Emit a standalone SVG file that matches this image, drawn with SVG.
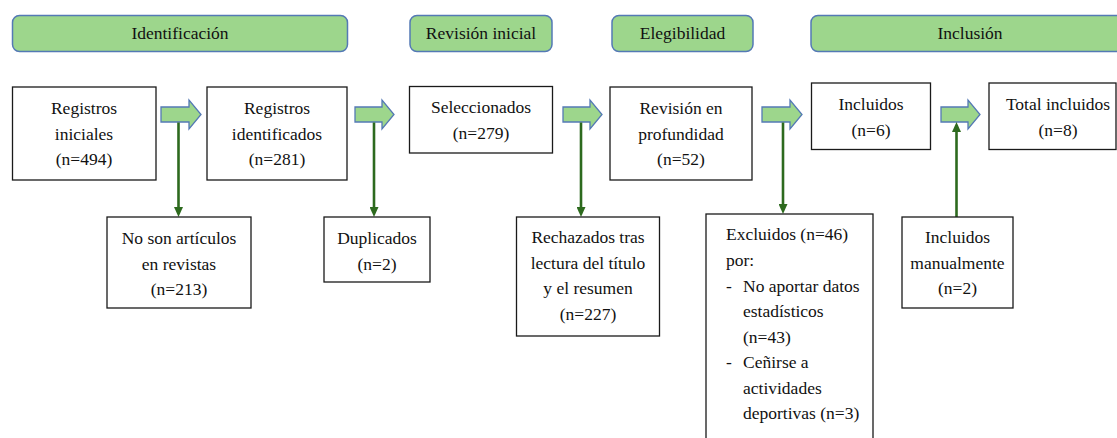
<svg xmlns="http://www.w3.org/2000/svg" width="1117" height="438" viewBox="0 0 1117 438">
  <defs>
    <style>
      .bar { fill: #9dd68c; stroke: #5479b5; stroke-width: 1.5; }
      .box { fill: #ffffff; stroke: #1a1a1a; stroke-width: 1.3; }
      .t { text-anchor: middle; }
      .blk { fill: #9dd68c; stroke: #5479b5; stroke-width: 1.3; stroke-linejoin: miter; }
      .dl { fill: none; stroke: #2d6a1e; stroke-width: 2.6; }
    </style>
    <marker id="ah" markerUnits="userSpaceOnUse" markerWidth="10" markerHeight="9" refX="4" refY="4.5" orient="auto">
      <path d="M0,0 L10,4.5 L0,9 Z" fill="#2d6a1e"/>
    </marker>
  </defs>

  <rect width="1117" height="438" fill="#ffffff"/>

  <g font-family="'Liberation Serif', 'Times New Roman', 'Noto Serif', serif" font-size="17.5" fill="#111111">
  <g id="bar-identificacion">
    <rect class="bar" x="12.5" y="15.5" width="335" height="36" rx="7"/>
    <text class="t" x="180" y="39">Identificación</text>
  </g>
  <g id="bar-revision">
    <rect class="bar" x="410" y="15.5" width="142" height="36" rx="7"/>
    <text class="t" x="481" y="39">Revisión inicial</text>
  </g>
  <g id="bar-elegibilidad">
    <rect class="bar" x="612" y="15.5" width="141" height="36" rx="7"/>
    <text class="t" x="682.5" y="39">Elegibilidad</text>
  </g>
  <g id="bar-inclusion">
    <rect class="bar" x="811" y="15.5" width="320" height="36" rx="7"/>
    <text class="t" x="970" y="39">Inclusión</text>
  </g>

  <g id="connectors">
    <path class="blk" d="M161,107 H189 V100 L201,114.5 L189,129 V122 H161 Z"/>
    <path class="blk" d="M355,107 H382 V100 L394,114.5 L382,129 V122 H355 Z"/>
    <path class="blk" d="M563,107 H590 V100 L602,114.5 L590,129 V122 H563 Z"/>
    <path class="blk" d="M762,107 H790 V100 L802,114.5 L790,129 V122 H762 Z"/>
    <path class="blk" d="M941,107 H968 V100 L980,114.5 L968,129 V122 H941 Z"/>
    <path class="dl" d="M178.5,122.5 V211" marker-end="url(#ah)"/>
    <path class="dl" d="M374,122.5 V211" marker-end="url(#ah)"/>
    <path class="dl" d="M581,122.5 V211" marker-end="url(#ah)"/>
    <path class="dl" d="M783,122.5 V208" marker-end="url(#ah)"/>
    <path class="dl" d="M956.5,217 V128" marker-end="url(#ah)"/>
  </g>

  <g id="registros-iniciales">
    <rect class="box" x="12.5" y="87" width="143.5" height="93"/>
    <text class="t" x="84" y="114">Registros</text>
    <text class="t" x="84" y="139.5">iniciales</text>
    <text class="t" x="84" y="165">(n=494)</text>
  </g>
  <g id="registros-identificados">
    <rect class="box" x="207" y="87" width="140" height="93"/>
    <text class="t" x="277" y="114">Registros</text>
    <text class="t" x="277" y="139.5">identificados</text>
    <text class="t" x="277" y="165">(n=281)</text>
  </g>
  <g id="seleccionados">
    <rect class="box" x="409.5" y="86.5" width="143" height="66.5"/>
    <text class="t" x="481" y="113">Seleccionados</text>
    <text class="t" x="481" y="139">(n=279)</text>
  </g>
  <g id="revision-profundidad">
    <rect class="box" x="610" y="87" width="142" height="93"/>
    <text class="t" x="681" y="114">Revisión en</text>
    <text class="t" x="681" y="139.5">profundidad</text>
    <text class="t" x="681" y="165">(n=52)</text>
  </g>
  <g id="incluidos">
    <rect class="box" x="811.5" y="83" width="119" height="66.5"/>
    <text class="t" x="871" y="110">Incluidos</text>
    <text class="t" x="871" y="136">(n=6)</text>
  </g>
  <g id="total-incluidos">
    <rect class="box" x="989" y="83" width="127" height="66.5"/>
    <text class="t" x="1058" y="110">Total incluidos</text>
    <text class="t" x="1058" y="136">(n=8)</text>
  </g>

  <g id="no-son-articulos">
    <rect class="box" x="107" y="217" width="144" height="91"/>
    <text class="t" x="179" y="244">No son artículos</text>
    <text class="t" x="179" y="269.5">en revistas</text>
    <text class="t" x="179" y="295">(n=213)</text>
  </g>
  <g id="duplicados">
    <rect class="box" x="324" y="217" width="106" height="65"/>
    <text class="t" x="377" y="244">Duplicados</text>
    <text class="t" x="377" y="269.5">(n=2)</text>
  </g>
  <g id="rechazados">
    <rect class="box" x="516.5" y="217" width="143" height="119"/>
    <text class="t" x="588" y="243">Rechazados tras</text>
    <text class="t" x="588" y="268.5">lectura del título</text>
    <text class="t" x="588" y="294">y el resumen</text>
    <text class="t" x="588" y="319.5">(n=227)</text>
  </g>
  <g id="excluidos">
    <rect class="box" x="706" y="214" width="167" height="240"/>
    <text x="726" y="240">Excluidos (n=46)</text>
    <text x="726" y="266">por:</text>
    <text x="726" y="291.5">-</text>
    <text x="743" y="291.5">No aportar datos</text>
    <text x="743" y="317">estadísticos</text>
    <text x="743" y="342.5">(n=43)</text>
    <text x="726" y="368">-</text>
    <text x="743" y="368">Ceñirse a</text>
    <text x="743" y="393.5">actividades</text>
    <text x="743" y="419">deportivas (n=3)</text>
  </g>
  <g id="incluidos-manualmente">
    <rect class="box" x="902" y="217" width="111" height="91"/>
    <text class="t" x="957.5" y="243">Incluidos</text>
    <text class="t" x="957.5" y="268.5">manualmente</text>
    <text class="t" x="957.5" y="294">(n=2)</text>
  </g>
  </g>
</svg>
